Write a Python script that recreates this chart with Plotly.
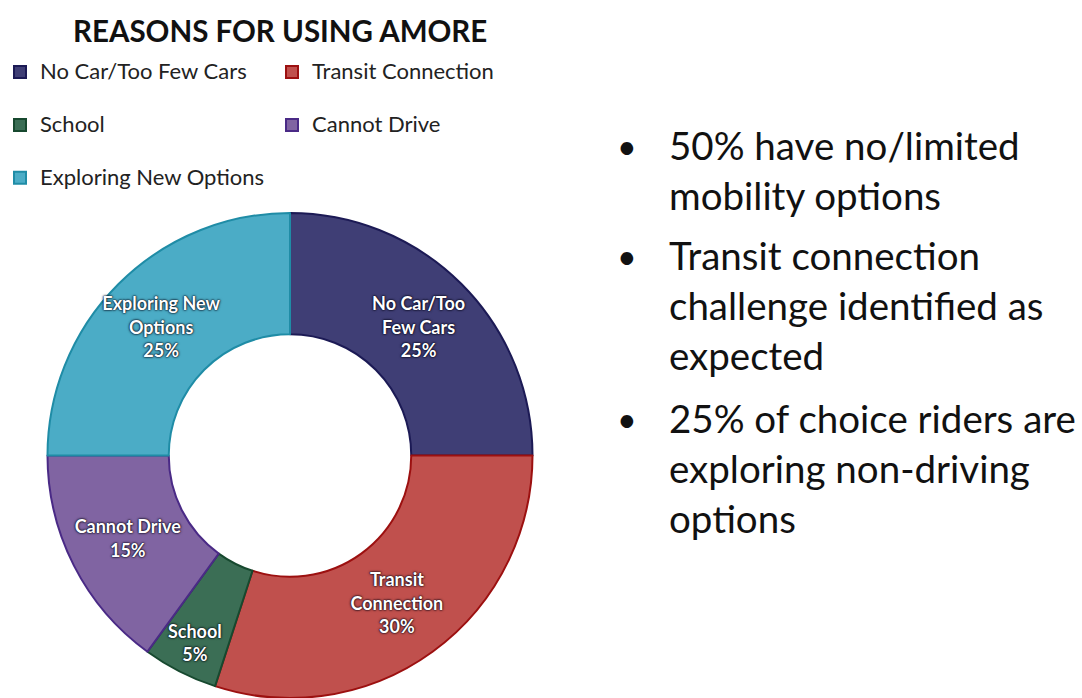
import plotly.graph_objects as go

# Survey results: reasons riders give for using AMORE
categories = ["No Car/Too Few Cars", "Transit Connection", "School",
              "Cannot Drive", "Exploring New Options"]
shares = [25, 30, 5, 15, 25]
slice_names = ["No Car/Too<br>Few Cars", "Transit<br>Connection", "School",
               "Cannot Drive", "Exploring New<br>Options"]

title_text = "REASONS FOR USING AMORE"
bullet_points = [
    ["50% have no/limited", "mobility options"],
    ["Transit connection", "challenge identified as", "expected"],
    ["25% of choice riders are", "exploring non-driving", "options"],
]

# Styling
fill_colors = ["#3F3E75", "#C0504D", "#3B6E55", "#8064A2", "#4BACC6"]
edge_colors = ["#1C1A55", "#9C1010", "#17492F", "#4A2A86", "#1F8CA6"]

W, H = 1082, 698
PLOT_W = 682          # width of the plotting area (left part of the page)
CX, CY, R = 290, 456, 243   # donut centre and radius in page pixels
LABEL_SIZE = 18


def px_x(x):
    return min(max(x / PLOT_W, 0), 1)


def px_y(y):
    return min(max(1 - y / H, 0), 1)


# Blank second line gives the legend rows their wide spacing
legend_labels = [f'<span style="font-size:22px">{c}</span><br> ' for c in categories]

# Translucent dark halo reads as a deeper shade of each slice colour
halo = ("0 0 1px rgba(0,0,20,0.7), 0 0 2px rgba(0,0,20,0.6), "
        "0 0 2px rgba(0,0,20,0.6), 0 0 3px rgba(0,0,20,0.5)")
label_font = dict(family="Lato", size=LABEL_SIZE, color="white", weight="bold",
                  shadow=halo)

fig = go.Figure()
fig.add_trace(go.Pie(
    labels=legend_labels,
    values=shares,
    text=slice_names,
    texttemplate="%{text}<br>%{value}%",
    textposition="inside",
    insidetextorientation="horizontal",
    sort=False,
    direction="clockwise",
    rotation=0,
    hole=0.5,
    marker=dict(colors=fill_colors, line=dict(color=edge_colors, width=2)),
    textfont=label_font,
    insidetextfont=label_font,
    domain=dict(x=[px_x(CX - R), px_x(CX + R)],
                y=[px_y(CY + R), px_y(CY - R)]),
    hoverinfo="skip",
))

annotations = [dict(
    text=f"<b>{title_text}</b>", x=px_x(280), y=px_y(30),
    xref="paper", yref="paper", showarrow=False,
    font=dict(family="Lato", size=29.5, color="#111111"),
    xanchor="center", yanchor="middle",
)]

line_y = [[145, 195], [255, 305, 355], [418, 468, 518]]
for lines, ys in zip(bullet_points, line_y):
    annotations.append(dict(
        text="•", x=627 / PLOT_W, y=px_y(ys[0]), xref="paper", yref="paper",
        showarrow=False, font=dict(family="Lato", size=34, color="#111111"),
        xanchor="center", yanchor="middle",
    ))
    for line, y in zip(lines, ys):
        annotations.append(dict(
            text=line, x=667 / PLOT_W, y=px_y(y), xref="paper", yref="paper",
            showarrow=False, font=dict(family="Lato", size=38.5, color="#111111"),
            xanchor="left", yanchor="middle",
        ))

fig.update_layout(
    width=W, height=H,
    margin=dict(l=0, r=W - PLOT_W, t=0, b=0),
    paper_bgcolor="white", plot_bgcolor="white",
    showlegend=True,
    uniformtext=dict(mode="show", minsize=LABEL_SIZE),
    legend=dict(
        orientation="h", x=0, xanchor="left", y=px_y(53), yanchor="top",
        entrywidth=227, valign="top", traceorder="normal",
        font=dict(family="Lato", size=19.2, color="#222222"),
        bgcolor="rgba(0,0,0,0)",
    ),
    annotations=annotations,
)

fig.write_html("out.html")
